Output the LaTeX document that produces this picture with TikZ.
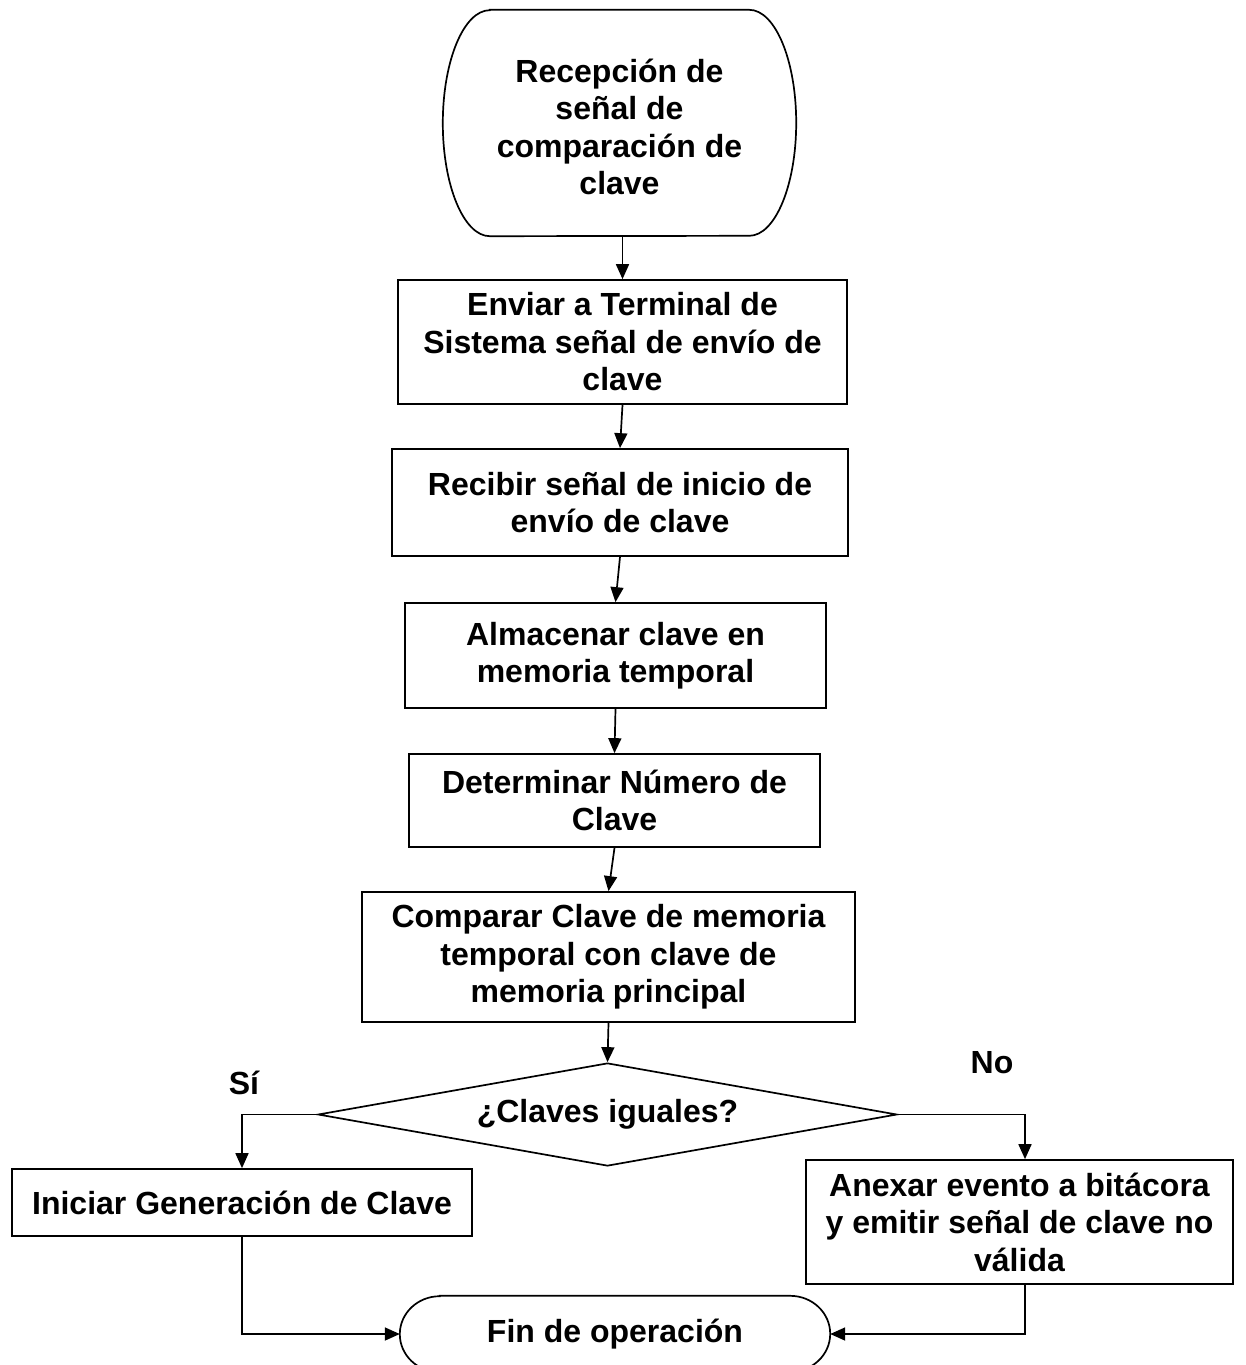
\documentclass[tikz,border=0pt]{standalone}
\usepackage{fontspec}
\setmainfont{Liberation Sans}
\usetikzlibrary{arrows.meta,shapes.geometric}
\begin{document}
\begin{tikzpicture}[x=1pt,y=1pt,
  every node/.style={font=\bfseries\fontsize{32}{37.5}\selectfont, align=center, inner sep=0pt},
  procbox/.style={draw, line width=1.7pt, rectangle},
  termtext/.style={draw=none},
  outline/.style={line width=1.7pt},
  arr/.style={line width=1.7pt, -{Triangle[length=15pt,width=13pt]}},
  lbl/.style={}
]
\useasboundingbox (0,0) rectangle (1245,-1365);
\clip (0,0) rectangle (1245,-1365);

% start terminal
\node[termtext, minimum width=353pt, minimum height=226pt] (start) at (619.5,-127)
  {Recepción de\\señal de\\comparación de\\clave};
\draw[outline] ([xshift=47pt,yshift=4pt]start.north west) -- ([xshift=-47pt,yshift=4pt]start.north east)
  arc[start angle=90,end angle=-90,x radius=47pt,y radius=113pt]
  -- ([xshift=47pt,yshift=4pt]start.south west)
  arc[start angle=270,end angle=90,x radius=47pt,y radius=113pt] -- cycle;
\coordinate (startbot) at ([yshift=4pt]start.south);

\node[procbox, minimum width=449pt, minimum height=124pt] (b2) at (622.5,-342)
  {Enviar a Terminal de\\Sistema señal de envío de\\clave};
\node[procbox, minimum width=456pt, minimum height=107pt] (b3) at (620,-502.5)
  {Recibir señal de inicio de\\envío de clave};
\node[procbox, minimum width=421pt, minimum height=105pt] (b4) at (615.5,-655.5)
  {Almacenar clave en\\memoria temporal};
\node[procbox, minimum width=411pt, minimum height=93pt] (b5) at (614.5,-800.5)
  {Determinar Número de\\Clave};
\node[procbox, minimum width=493pt, minimum height=130pt] (b6) at (608.5,-957)
  {Comparar Clave de memoria\\temporal con clave de\\memoria principal};

\node[draw, diamond, line width=1.7pt, aspect=5.62, minimum width=579pt, minimum height=103pt] (dia) at (607.5,-1114.5)
  {¿Claves iguales?};

\node[procbox, minimum width=460pt, minimum height=67pt] (bl) at (242,-1202.5)
  {Iniciar Generación de Clave};
\node[procbox, minimum width=427pt, minimum height=124pt] (br) at (1019.5,-1222)
  {Anexar evento a bitácora\\y emitir señal de clave no\\válida};

% end terminal
\node[termtext, minimum width=430pt, minimum height=76pt] (end) at (615,-1334)
  {Fin de operación};
\draw[outline] ([xshift=40pt]end.north west) -- ([xshift=-40pt]end.north east)
  arc[start angle=90,end angle=-90,x radius=40pt,y radius=38pt]
  -- ([xshift=40pt]end.south west)
  arc[start angle=270,end angle=90,x radius=40pt,y radius=38pt] -- cycle;

\node[lbl] (si) at (244,-1083) {Sí};
\node[lbl] (no) at (992,-1063) {No};

% connectors
\draw[arr] (startbot -| b2.north) -- (b2.north);
\draw[arr] (b2.south) -- (b3.north);
\draw[arr] (b3.south) -- (b4.north);
\draw[arr] (b4.south) -- (b5.north);
\draw[arr] (b5.south) -- (b6.north);
\draw[arr] (b6.south) -- (dia.north);
\draw[arr] (dia.west) -| (bl.north);
\draw[arr] (dia.east) -| ([xshift=5.5pt]br.north);
\draw[arr] (bl.south) |- (end.west);
\draw[arr] ([xshift=5.5pt]br.south) |- (end.east);
\end{tikzpicture}
\end{document}
